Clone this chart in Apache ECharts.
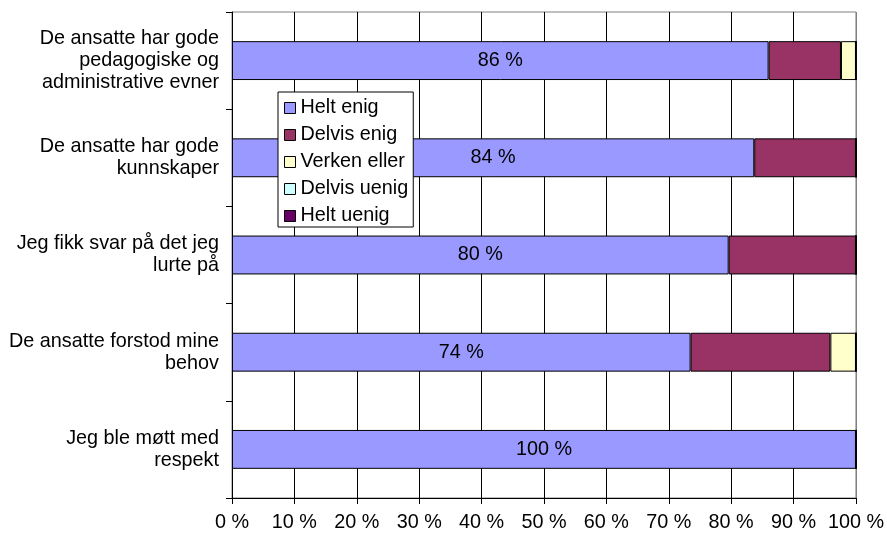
<!DOCTYPE html>
<html>
<head>
<meta charset="utf-8">
<script src="https://cdn.jsdelivr.net/npm/echarts@6/dist/echarts.min.js"></script>
<style>html,body{margin:0;padding:0;background:#fff}#c{width:887px;height:535px}</style>
</head>
<body>
<div id="c"></div>
<script>
const categories = [
  "De ansatte har gode\npedagogiske og\nadministrative evner",
  "De ansatte har gode\nkunnskaper",
  "Jeg fikk svar på det jeg\nlurte på",
  "De ansatte forstod mine\nbehov",
  "Jeg ble møtt med\nrespekt"
];
const seriesNames = ["Helt enig", "Delvis enig", "Verken eller", "Delvis uenig", "Helt uenig"];
const heltEnig = [86.0, 83.7, 79.6, 73.5, 100];
const delvisEnig = [11.6, 16.3, 20.4, 22.4, 0];
const verkenEller = [2.4, 0, 0, 4.1, 0];
const delvisUenig = [0, 0, 0, 0, 0];
const heltUenig = [0, 0, 0, 0, 0];
const xTicks = [0, 10, 20, 30, 40, 50, 60, 70, 80, 90, 100];
const colors = ["#9999FF", "#993366", "#FFFFCC", "#CCFFFF", "#660066"];
const values = [heltEnig, delvisEnig, verkenEller, delvisUenig, heltUenig];

const font = "Liberation Sans, Arial, sans-serif";
const fs = 19.8;
const chart = echarts.init(document.getElementById('c'), null, {renderer: 'canvas'});
const splitColors = xTicks.map((t, i) => i === xTicks.length - 1 ? '#808080' : '#000000');

chart.setOption({
  animation: false,
  textStyle: {fontFamily: font},
  grid: {left: 232, right: 30, top: 12, bottom: 37, show: true, borderColor: '#808080', borderWidth: 1, backgroundColor: '#fff'},
  legend: {
    orient: 'vertical', left: 278, top: 92,
    data: seriesNames,
    itemWidth: 11, itemHeight: 11, itemGap: 7,
    padding: [6, 5, 1, 6],
    backgroundColor: '#fff', borderColor: '#000', borderWidth: 1,
    textStyle: {fontSize: fs, color: '#000', fontFamily: font, lineHeight: 20, padding: [0, 0, 0, 0]},
    itemStyle: {borderColor: '#000', borderWidth: 1},
    icon: 'rect'
  },
  xAxis: {
    type: 'value', min: 0, max: 100, interval: 10,
    axisLine: {show: true, lineStyle: {color: '#000', width: 1}},
    axisTick: {show: true, length: 6, lineStyle: {color: '#000'}},
    axisLabel: {formatter: '{value} %', fontSize: fs, color: '#000', margin: 15, fontFamily: font},
    splitLine: {show: true, lineStyle: {color: splitColors, width: 1}}
  },
  yAxis: {
    type: 'category', data: categories, inverse: true,
    axisLine: {show: true, lineStyle: {color: '#000', width: 1}},
    axisTick: {show: true, length: 6, lineStyle: {color: '#000'}},
    axisLabel: {fontSize: fs, color: '#000', margin: 13, lineHeight: 22, align: 'right', fontFamily: font}
  },
  series: seriesNames.map((name, i) => ({
    name: name, type: 'bar', stack: 'a',
    barCategoryGap: '60%',
    data: values[i],
    itemStyle: {color: colors[i], borderColor: '#000', borderWidth: 1},
    label: i === 0 ? {
      show: true, position: 'inside', fontSize: fs, color: '#000', fontFamily: font,
      formatter: p => Math.round(p.value) + ' %'
    } : {show: false}
  }))
});
</script>
</body>
</html>
